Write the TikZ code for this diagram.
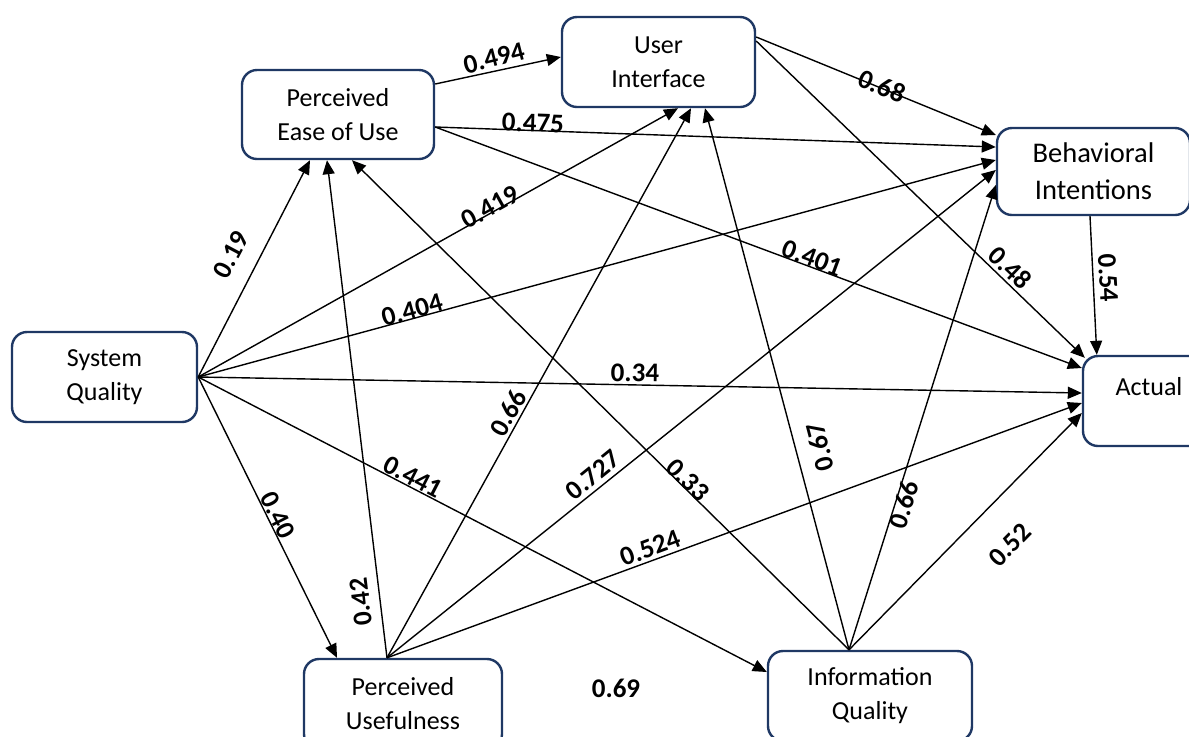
\documentclass[tikz,border=0pt]{standalone}
\usepackage{fontspec}
\setmainfont{Carlito}
\usetikzlibrary{arrows.meta,calc}
\definecolor{boxblue}{RGB}{31,56,100}
\begin{document}
\begin{tikzpicture}[x=0.5pt,y=-0.5pt,
  box/.style={draw=boxblue, line width=1.2pt, rounded corners=7.5pt, fill=white, align=center, font=\fontsize{13}{17}\selectfont, inner sep=0pt},
  arr/.style={line width=0.7pt, -{Triangle[length=7pt,width=6pt]}},
  lab/.style={font=\fontsize{13.5}{16}\selectfont\bfseries, inner sep=0pt}]
\useasboundingbox (0,0) rectangle (1189,736);

\node[box, minimum width=96pt, minimum height=44.5pt] (peou) at (338,114.5) {Perceived\\Ease of Use};
\node[box, minimum width=96.5pt, minimum height=45pt] (ui) at (658.5,62) {User\\Interface};
\node[box, minimum width=92.5pt, minimum height=45pt] (sq) at (104.5,377) {System\\Quality};
\node[box, minimum width=99pt, minimum height=45pt] (pu) at (403,704) {Perceived\\Usefulness};
\node[box, minimum width=102pt, minimum height=45pt] (iq) at (870,696) {Information\\Quality};
\node[box, minimum width=96.5pt, minimum height=43.5pt, font=\fontsize{14.25}{18.5}\selectfont] (bi) at (1093.5,171.5) {Behavioral\\Intentions};
\node[box, minimum width=96.5pt, minimum height=45pt] (act) at (1179.5,401) {};
\node[font=\fontsize{13}{17}\selectfont, inner sep=0pt] (acttext) at (1149,387) {Actual};

\coordinate (pus) at ($(pu.north)+(-16,0)$);
\coordinate (iqs) at ($(iq.north)+(-21,0)$);
\coordinate (peoua) at ($(peou.east)+(0,-30.5)$);
\coordinate (peoub) at ($(peou.east)+(0,12.5)$);

% System Quality
\draw[arr] (sq.east) -- ($(peou.south)+(-28,0)$);
\draw[arr] (sq.east) -- ($(ui.south)+(19.5,0)$);
\draw[arr] (sq.east) -- ($(bi.west)+(0,-11.5)$);
\draw[arr] (sq.east) -- ($(act.west)+(0,-8)$);
\draw[arr] (sq.east) -- ($(iq.west)+(0,-24)$);
\draw[arr] (sq.east) -- ($(pu.north)+(-66,0)$);
% Perceived Usefulness
\draw[arr] (pus) -- ($(peou.south)+(-11,0)$);
\draw[arr] (pus) -- ($(ui.south)+(32.5,0)$);
\draw[arr] (pus) -- ($(bi.west)+(0,-1.5)$);
\draw[arr] (pus) -- ($(act.west)+(0,2)$);
% Information Quality
\draw[arr] (iqs) -- ($(peou.south)+(14,0)$);
\draw[arr] (iqs) -- ($(ui.south)+(46.5,0)$);
\draw[arr] (iqs) -- ($(bi.west)+(0,13.5)$);
\draw[arr] (iqs) -- ($(act.west)+(0,12)$);
% Perceived Ease of Use
\draw[arr] (peoua) -- ($(ui.west)+(0,-5)$);
\draw[arr] (peoub) -- ($(bi.west)+(0,-24.5)$);
\draw[arr] (peoub) -- ($(act.west)+(0,-33)$);
% User Interface
\draw[arr] ($(ui.east)+(0,-25)$) -- ($(bi.west)+(0,-36.5)$);
\draw[arr] ($(ui.east)+(0,-21)$) -- ($(act.north west)+(3,3)$);
% Behavioral Intentions
\draw[arr] ($(bi.south)+(-3.5,0)$) -- ($(act.north west)+(15,0)$);

% labels
\node[lab, rotate=14.2] (l1) at (494,58) {0.494};
\node[lab, rotate=-2] (l2) at (533,123) {0.475};
\node[lab, rotate=-22.5] (l3) at (882,86) {0.68};
\node[lab, rotate=29.2] (l4) at (490,207) {0.419};
\node[lab, rotate=62.1] (l5) at (231,255) {0.19};
\node[lab, rotate=15.3] (l6) at (412,310) {0.404};
\node[lab, rotate=-20.4] (l7) at (812,258) {0.401};
\node[lab, rotate=-43.8] (l8) at (1010,268) {0.48};
\node[lab, rotate=-86.8] (l9) at (1108,278) {0.54};
\node[lab, rotate=-1] (l10) at (635,373) {0.34};
\node[lab, rotate=-27.2] (l11) at (413,477) {0.441};
\node[lab, rotate=-63.3] (l12) at (278,515) {0.40};
\node[lab, rotate=96.8] (l13) at (361,602) {0.42};
\node[lab, rotate=61.2] (l14) at (508,413) {0.66};
\node[lab, rotate=39.1] (l15) at (593,475) {0.727};
\node[lab, rotate=20.3] (l16) at (650,548) {0.524};
\node[lab, rotate=-44.7] (l17) at (688,480) {0.33};
\node[lab, rotate=104.8] (l18) at (820,447) {0.67};
\node[lab, rotate=72.6] (l19) at (904,505) {0.66};
\node[lab, rotate=45.5] (l20) at (1010,545) {0.52};
\node[lab] (l21) at (616,688) {0.69};
\end{tikzpicture}
\end{document}
